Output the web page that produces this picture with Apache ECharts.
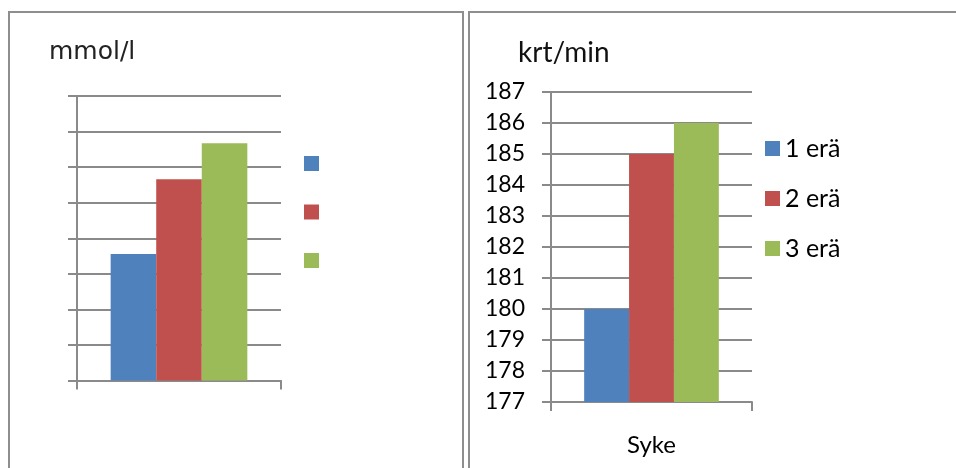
<!DOCTYPE html>
<html>
<head>
<meta charset="utf-8">
<script src="https://cdn.jsdelivr.net/npm/echarts@6/dist/echarts.min.js"></script>
<style>
  html, body { margin: 0; padding: 0; background: #fff; }
  #chart { width: 956px; height: 468px; }
</style>
</head>
<body>
<div id="chart"></div>
<script>
// Series (rounds) shared by both panels
const seriesNames = ['1 erä', '2 erä', '3 erä'];
const seriesColors = ['#4F81BD', '#C0504D', '#9BBB59'];

// Left panel: lactate, mmol/l (axis labels not shown)
const lactateCategories = [''];
const lactateValues = [3.56, 5.66, 6.67];
const lactateAxis = { min: 0, max: 8, interval: 1 };

// Right panel: heart rate, beats per minute
const hrCategories = ['Syke'];
const hrValues = [180, 185, 186];
const hrAxis = { min: 177, max: 187, interval: 1 };

const FONT = 'Lato, "Liberation Sans", sans-serif';
const GRID_COLOR = '#8a8a8a';

const chart = echarts.init(document.getElementById('chart'), null, { renderer: 'canvas' });

function xAxisFor(gridIndex, categories) {
  return {
    type: 'category',
    gridIndex,
    data: categories,
    axisLine: { show: true, lineStyle: { color: GRID_COLOR, width: 2 } },
    axisTick: { show: true, length: 9, alignWithLabel: false, lineStyle: { color: GRID_COLOR, width: 2 } },
    axisLabel: { show: true, margin: 31, color: '#000', fontFamily: FONT, fontSize: 24 }
  };
}

function yAxisFor(gridIndex, range, showLabels) {
  return {
    type: 'value',
    gridIndex,
    min: range.min,
    max: range.max,
    interval: range.interval,
    axisLine: { show: true, lineStyle: { color: GRID_COLOR, width: 2 } },
    axisTick: { show: true, length: 9, lineStyle: { color: GRID_COLOR, width: 2 } },
    axisLabel: { show: showLabels, margin: 26, color: '#000', fontFamily: FONT, fontSize: 23 },
    splitLine: { show: true, lineStyle: { color: GRID_COLOR, width: 2 } }
  };
}

function barSeries(values, axisIndex) {
  return values.map((v, i) => ({
    name: seriesNames[i],
    type: 'bar',
    xAxisIndex: axisIndex,
    yAxisIndex: axisIndex,
    data: [v],
    barGap: '0%',
    barCategoryGap: '33%',
    itemStyle: { color: seriesColors[i] },
    emphasis: { disabled: true },
    animation: false
  }));
}

chart.setOption({
  animation: false,
  title: [
    { text: 'mmol/l', left: 49, top: 40, padding: 0, textStyle: { fontFamily: '"DejaVu Sans", sans-serif', fontWeight: 'normal', fontSize: 25, color: '#222' } },
    { text: 'krt/min', left: 518, top: 39, padding: 0, textStyle: { fontFamily: FONT, fontWeight: 'normal', fontSize: 28, color: '#111' } }
  ],
  graphic: [
    { type: 'rect', shape: { x: 9, y: 12, width: 454, height: 470 }, style: { fill: 'none', stroke: '#8e8e8e', lineWidth: 2 }, silent: true },
    { type: 'rect', shape: { x: 469, y: 12, width: 500, height: 470 }, style: { fill: 'none', stroke: '#8e8e8e', lineWidth: 2 }, silent: true }
  ],
  legend: [
    {
      data: seriesNames,
      orient: 'vertical',
      left: 304,
      top: 156,
      padding: 0,
      itemWidth: 15,
      itemHeight: 15,
      itemGap: 33.5,
      icon: 'rect',
      formatter: () => '',
      selectedMode: false,
      textStyle: { fontSize: 1, lineHeight: 15 }
    },
    {
      data: seriesNames,
      orient: 'vertical',
      left: 765,
      top: 136,
      padding: 0,
      itemWidth: 15,
      itemHeight: 15,
      itemGap: 25,
      icon: 'rect',
      selectedMode: false,
      textStyle: { fontFamily: FONT, fontSize: 25, lineHeight: 24, color: '#000' }
    }
  ],
  grid: [
    { left: 77, top: 96, width: 204, height: 284.6, containLabel: false },
    { left: 551, top: 92, width: 201, height: 310, containLabel: false }
  ],
  xAxis: [xAxisFor(0, lactateCategories), xAxisFor(1, hrCategories)],
  yAxis: [yAxisFor(0, lactateAxis, false), yAxisFor(1, hrAxis, true)],
  series: [...barSeries(lactateValues, 0), ...barSeries(hrValues, 1)]
});
</script>
</body>
</html>
